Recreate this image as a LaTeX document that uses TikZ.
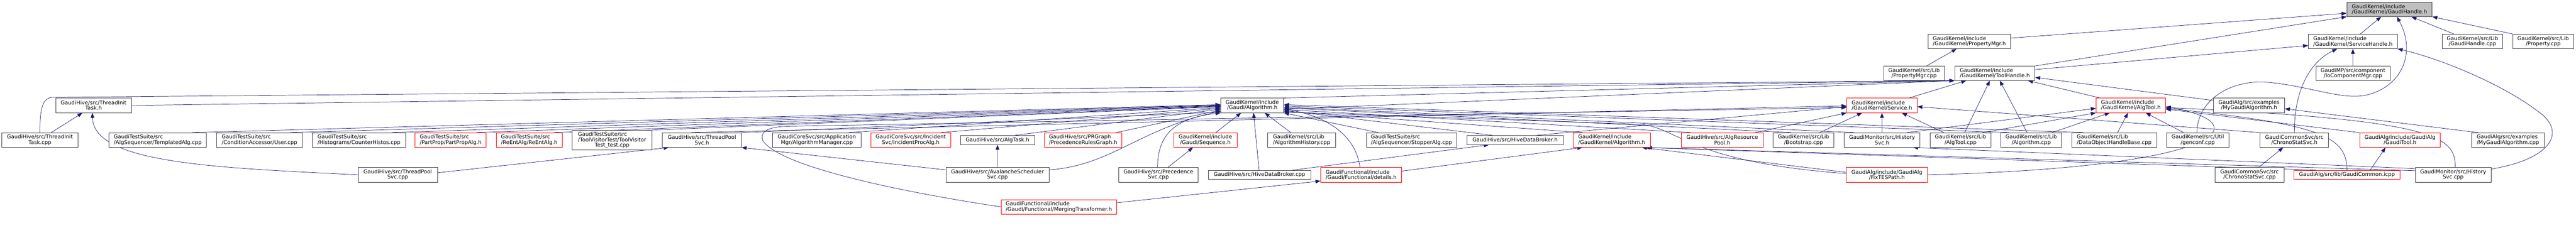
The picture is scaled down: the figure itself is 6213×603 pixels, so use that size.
\documentclass[tikz,border=0pt]{standalone}
\usepackage{fontspec}
\setmainfont{DejaVu Sans}
\usetikzlibrary{arrows.meta}
\definecolor{edgec}{HTML}{191970}
\definecolor{boxc}{HTML}{404040}
\definecolor{rootc}{HTML}{BFBFBF}
\definecolor{redc}{HTML}{FF0000}
\pgfdeclarelayer{bg}
\pgfsetlayers{bg,main}
\begin{document}
\begin{tikzpicture}[x=1pt,y=-1pt,
  box/.style={draw=boxc, line width=1pt, fill=white, inner sep=0pt, font=\fontsize{12.8}{12.7}\selectfont},
  rbox/.style={box, draw=redc},
  edge/.style={draw=edgec, line width=0.9pt, -{Triangle[length=12pt,width=9pt]}}]
\useasboundingbox (0,0) rectangle (6213,603);
% row 0
\node[box, fill=rootc, minimum width=206pt, minimum height=35pt, align=left] (gh) at (5763,22.5) {GaudiKernel/include\\/GaudiKernel/GaudiHandle.h};
% row 1
\node[box, minimum width=199pt, minimum height=35pt, align=left] (pmh) at (4749.8,100) {GaudiKernel/include\\/GaudiKernel/PropertyMgr.h};
\node[box, minimum width=215pt, minimum height=35pt, align=left] (shh) at (5674.8,100) {GaudiKernel/include\\/GaudiKernel/ServiceHandle.h};
\node[box, minimum width=146pt, minimum height=35pt, align=center] (ghcpp) at (5963.2,100) {GaudiKernel/src/Lib\\/GaudiHandle.cpp};
\node[box, minimum width=147pt, minimum height=35pt, align=center] (propcpp) at (6133.8,100) {GaudiKernel/src/Lib\\/Property.cpp};
% row 2
\node[box, minimum width=147pt, minimum height=34.5pt, align=center] (pmcpp) at (4616.5,177) {GaudiKernel/src/Lib\\/PropertyMgr.cpp};
\node[box, minimum width=193.7pt, minimum height=34.5pt, align=left] (thh) at (4811.2,177) {GaudiKernel/include\\/GaudiKernel/ToolHandle.h};
\node[box, minimum width=178.6pt, minimum height=34.5pt, align=center] (iocpp) at (5675,177) {GaudiMP/src/component\\/IoComponentMgr.cpp};
% row 3
\node[box, minimum width=182.7pt, minimum height=35pt, align=center] (tith) at (225.7,254.7) {GaudiHive/src/ThreadInit\\Task.h};
\node[box, minimum width=152pt, minimum height=35pt, align=center] (galg) at (3020.3,254.7) {GaudiKernel/include\\/Gaudi/Algorithm.h};
\node[rbox, minimum width=170pt, minimum height=35pt, align=left] (svch) at (4539,254.7) {GaudiKernel/include\\/GaudiKernel/Service.h};
\node[rbox, minimum width=168pt, minimum height=35pt, align=left] (atoolh) at (5139.3,254.7) {GaudiKernel/include\\/GaudiKernel/AlgTool.h};
\node[box, minimum width=172pt, minimum height=35pt, align=center] (mgah) at (5424.3,254.7) {GaudiAlg/src/examples\\/MyGaudiAlgorithm.h};
% row 4
\node[box, minimum width=183.3pt, minimum height=35pt, align=center] (titcpp) at (96.3,338.3) {GaudiHive/src/ThreadInit\\Task.cpp};
\node[box, minimum width=235pt, minimum height=35pt, align=left] (templ) at (380.5,338.3) {GaudiTestSuite/src\\/AlgSequencer/TemplatedAlg.cpp};
\node[box, minimum width=207pt, minimum height=35pt, align=left] (user) at (625.8,338.3) {GaudiTestSuite/src\\/ConditionAccessor/User.cpp};
\node[box, minimum width=224.3pt, minimum height=35pt, align=left] (counter) at (865.8,338.3) {GaudiTestSuite/src\\/Histograms/CounterHistos.cpp};
\node[rbox, minimum width=171.4pt, minimum height=35pt, align=left] (partprop) at (1087,338.3) {GaudiTestSuite/src\\/PartProp/PartPropAlg.h};
\node[rbox, minimum width=159pt, minimum height=35pt, align=left] (reent) at (1276.5,338.3) {GaudiTestSuite/src\\/ReEntAlg/ReEntAlg.h};
\node[box, minimum width=192pt, minimum height=47.7pt, align=center] (toolvis) at (1476.3,338.5) {\rlap{GaudiTestSuite/src}\phantom{/ToolVisitorTest/ToolVisitor}\\/ToolVisitorTest/ToolVisitor\\Test\_test.cpp};
\node[box, minimum width=191pt, minimum height=35pt, align=center] (tpsh) at (1692.8,338.3) {GaudiHive/src/ThreadPool\\Svc.h};
\node[box, minimum width=213.4pt, minimum height=35pt, align=center] (algmgr) at (1970,338.3) {GaudiCoreSvc/src/Application\\Mgr/AlgorithmManager.cpp};
\node[rbox, minimum width=192.4pt, minimum height=35pt, align=center] (incproc) at (2196.5,338.3) {GaudiCoreSvc/src/Incident\\Svc/IncidentProcAlg.h};
\node[box, minimum width=179pt, minimum height=22pt, align=center] (algtask) at (2405.8,338.3) {GaudiHive/src/AlgTask.h};
\node[rbox, minimum width=187.3pt, minimum height=35pt, align=left] (prgraph) at (2612.3,338.3) {GaudiHive/src/PRGraph\\/PrecedenceRulesGraph.h};
\node[rbox, minimum width=152.3pt, minimum height=35pt, align=center] (seq) at (2907.2,338.3) {GaudiKernel/include\\/Gaudi/Sequence.h};
\node[box, minimum width=163pt, minimum height=35pt, align=left] (alghist) at (3139.2,338.3) {GaudiKernel/src/Lib\\/AlgorithmHistory.cpp};
\node[box, minimum width=217.3pt, minimum height=35pt, align=left] (stopper) at (3404.3,338.3) {GaudiTestSuite/src\\/AlgSequencer/StopperAlg.cpp};
\node[box, minimum width=232pt, minimum height=22pt, align=center] (hdbh) at (3654,338.3) {GaudiHive/src/HiveDataBroker.h};
\node[rbox, minimum width=185.7pt, minimum height=35pt, align=left] (gkalg) at (3887.2,338.3) {GaudiKernel/include\\/GaudiKernel/Algorithm.h};
\node[rbox, minimum width=197.7pt, minimum height=35pt, align=center] (arp) at (4153.8,338.3) {GaudiHive/src/AlgResource\\Pool.h};
\node[box, minimum width=147pt, minimum height=35pt, align=center] (boot) at (4349.8,338.3) {GaudiKernel/src/Lib\\/Bootstrap.cpp};
\node[box, minimum width=183pt, minimum height=35pt, align=center] (histh) at (4539.2,338.3) {GaudiMonitor/src/History\\Svc.h};
\node[box, minimum width=147pt, minimum height=35pt, align=center] (atoolcpp) at (4728.5,338.3) {GaudiKernel/src/Lib\\/AlgTool.cpp};
\node[box, minimum width=147.4pt, minimum height=35pt, align=center] (algcpp) at (4899,338.3) {GaudiKernel/src/Lib\\/Algorithm.cpp};
\node[box, minimum width=204.3pt, minimum height=35pt, align=left] (dohb) at (5099.2,338.3) {GaudiKernel/src/Lib\\/DataObjectHandleBase.cpp};
\node[box, minimum width=151pt, minimum height=35pt, align=center] (genconf) at (5300.5,338.3) {GaudiKernel/src/Util\\/genconf.cpp};
\node[box, minimum width=165.3pt, minimum height=35pt, align=center] (chronoh) at (5533.7,338.3) {GaudiCommonSvc/src\\/ChronoStatSvc.h};
\node[rbox, minimum width=195pt, minimum height=35pt, align=center] (gtool) at (5788.5,338.3) {GaudiAlg/include/GaudiAlg\\/GaudiTool.h};
\node[box, minimum width=174.7pt, minimum height=35pt, align=left] (mgacpp) at (6048.7,338.3) {GaudiAlg/src/examples\\/MyGaudiAlgorithm.cpp};
% row 5
\node[box, minimum width=191.3pt, minimum height=35pt, align=center] (tpscpp) at (959.3,422.3) {GaudiHive/src/ThreadPool\\Svc.cpp};
\node[box, minimum width=248.7pt, minimum height=35pt, align=center] (avalanche) at (2405.7,422.3) {GaudiHive/src/AvalancheScheduler\\Svc.cpp};
\node[box, minimum width=192.3pt, minimum height=35pt, align=center] (precsvc) at (2793.8,422.3) {GaudiHive/src/Precedence\\Svc.cpp};
\node[box, minimum width=247pt, minimum height=22pt, align=center] (hdbcpp) at (3037.8,422.5) {GaudiHive/src/HiveDataBroker.cpp};
\node[rbox, minimum width=195.4pt, minimum height=35pt, align=left] (details) at (3283,422.3) {GaudiFunctional/include\\/Gaudi/Functional/details.h};
\node[rbox, minimum width=195.4pt, minimum height=35pt, align=center] (fixtes) at (4551,422.3) {GaudiAlg/include/GaudiAlg\\/FixTESPath.h};
\node[box, minimum width=165.6pt, minimum height=35pt, align=center] (chronocpp) at (5425.5,422.3) {GaudiCommonSvc/src\\/ChronoStatSvc.cpp};
\node[rbox, minimum width=256.4pt, minimum height=22pt, align=center] (gcommon) at (5660.5,422.5) {GaudiAlg/src/lib/GaudiCommon.icpp};
\node[box, minimum width=182.7pt, minimum height=35pt, align=center] (histcpp) at (5916.7,422.3) {GaudiMonitor/src/History\\Svc.cpp};
% row 6
\node[rbox, minimum width=279pt, minimum height=35pt, align=left] (merging) at (2553.8,499.7) {GaudiFunctional/include\\/Gaudi/Functional/MergingTransformer.h};

\begin{pgfonlayer}{bg}
% into GaudiHandle.h
\draw[edge] ([yshift=8pt]pmh.east) -- ([yshift=-9.5pt]gh.west);
\draw[edge] (thh.north east) -- (gh.south west);
\draw[edge] ([xshift=18pt]shh.north) -- ([xshift=-20pt]gh.south);
\draw[edge] ([xshift=-45pt]ghcpp.north) -- ([xshift=53pt]gh.south);
\draw[edge] (propcpp.north west) -- (gh.south east);
\draw[edge] ([xshift=-2pt]genconf.north) .. controls (5300,240) and (5380,195) .. (5460,198) .. controls (5560,205) and (5640,240) .. (5700,231) .. controls (5790,215) and (5830,130) .. ([xshift=18pt]gh.south);
% into ServiceHandle.h
\draw[edge] ([yshift=9pt]thh.east) -- ([yshift=-10pt]shh.west);
\draw[edge] (chronoh.north) .. controls (5533,220) and (5570,150) .. ([xshift=-38pt]shh.south);
\draw[edge] (iocpp.north) -- (shh.south);
\draw[edge] ([yshift=14pt]histcpp.east) .. controls (6150,385) and (6195,320) .. (6120,268) .. controls (6030,200) and (5880,140) .. (shh.south east);
% into PropertyMgr.h
\draw[edge] ([xshift=30pt]pmcpp.north) -- ([xshift=-31pt]pmh.south);
% into ToolHandle.h
\draw[edge] (tith.east) -- (thh.south west);
\draw[edge] (titcpp.north) .. controls (96,255) and (105,238) .. (125,235) -- (thh.south west);
\draw[edge] (galg.north east) -- (thh.south west);
\draw[edge] (tpsh.north east) -- (thh.south west);
\draw[edge] ([xshift=65pt]svch.north) -- ([xshift=-69pt]thh.south);
\draw[edge] ([xshift=10pt]atoolcpp.north) -- ([xshift=-12pt]thh.south);
\draw[edge] ([xshift=-10pt]algcpp.north) -- ([xshift=12pt]thh.south);
\draw[edge] ([xshift=-74pt]atoolh.north) -- ([xshift=80pt]thh.south);
\draw[edge] ([yshift=12pt]mgah.west) -- ([yshift=-10pt]thh.east);
% into Service.h
\draw[edge] ([xshift=52pt]hdbh.north) -- ([yshift=-3pt]svch.west);
\draw[edge] ([xshift=-25pt]tpsh.north) -- ([yshift=-1pt]svch.west);
\draw[edge] (merging.west) .. controls (2150,460) and (1880,400) .. (1840,340) .. controls (1830,315) and (1860,306) .. (1900,305) -- ([yshift=-5pt]svch.west);
\draw[edge] ([xshift=80pt]arp.north) -- (svch.south west);
\draw[edge] ([xshift=39pt]boot.north) -- ([xshift=-48pt]svch.south);
\draw[edge] (histh.north) -- (svch.south);
\draw[edge] ([xshift=-40pt]atoolcpp.north) -- ([xshift=48pt]svch.south);
\draw[edge] (chronoh.north west) -- ([yshift=-3pt]svch.east);
% into Gaudi/Algorithm.h from the left
\draw[edge] ([xshift=83pt]templ.north) -- ([yshift=2pt]galg.west);
\draw[edge] ([xshift=74pt]user.north) -- ([yshift=1pt]galg.west);
\draw[edge] ([xshift=79pt]counter.north) -- (galg.west);
\draw[edge] ([xshift=62pt]partprop.north) -- ([yshift=-1pt]galg.west);
\draw[edge] ([xshift=60pt]reent.north) -- ([yshift=-2pt]galg.west);
\draw[edge] (toolvis.north east) -- ([yshift=-3pt]galg.west);
\draw[edge] ([xshift=77pt]algmgr.north) -- ([yshift=-5pt]galg.west);
\draw[edge] ([xshift=73pt]incproc.north) -- ([yshift=-7pt]galg.west);
\draw[edge] ([xshift=42pt]algtask.north) -- ([yshift=-9pt]galg.west);
\draw[edge] ([xshift=80pt]prgraph.north) -- ([yshift=-11pt]galg.west);
\draw[edge] ([yshift=12pt]avalanche.east) .. controls (2680,400) and (2750,310) .. ([yshift=-14pt]galg.west);
\draw[edge] ([xshift=-2pt]precsvc.north) .. controls (2792,320) and (2840,285) .. (galg.south west);
% into Gaudi/Algorithm.h from below
\draw[edge] ([xshift=23pt]precsvc.north) -- ([xshift=-30pt]seq.south);
\draw[edge] ([xshift=25pt]seq.north) -- ([xshift=-27pt]galg.south);
\draw[edge] ([xshift=-1pt]hdbcpp.north) -- ([xshift=3pt]galg.south);
\draw[edge] ([xshift=80pt]hdbcpp.north) -- ([xshift=-63pt]hdbh.south);
\draw[edge] ([xshift=-26pt]alghist.north) -- ([xshift=30pt]galg.south);
\draw[edge] ([xshift=-80pt]stopper.north) -- (galg.south east);
\draw[edge] ([xshift=-3pt]details.north) .. controls (3272,340) and (3220,285) .. ([yshift=-8pt]galg.east);
% into Gaudi/Algorithm.h from the right
\draw[edge] ([xshift=-54pt]hdbh.north) -- ([yshift=-12pt]galg.east);
\draw[edge] ([xshift=-70pt]gkalg.north) -- ([yshift=-14pt]galg.east);
\draw[edge] ([xshift=-76pt]arp.north) -- ([yshift=-10pt]galg.east);
\draw[edge] ([xshift=-30pt]boot.north) -- ([yshift=-6pt]galg.east);
\draw[edge] ([xshift=-67pt]histh.north) -- ([yshift=-4pt]galg.east);
\draw[edge] ([xshift=-54pt]algcpp.north) -- ([yshift=-1pt]galg.east);
\draw[edge] ([xshift=-74pt]dohb.north) -- ([yshift=2pt]galg.east);
\draw[edge] ([yshift=3pt]fixtes.west) .. controls (4060,390) and (4050,305) .. (3950,300) -- ([yshift=-16pt]galg.east);
% into GaudiKernel/Algorithm.h
\draw[edge] ([yshift=9pt]details.east) -- ([xshift=-71pt]gkalg.south);
\draw[edge] ([yshift=6pt]fixtes.west) -- ([xshift=73pt]gkalg.south);
\draw[edge] ([yshift=10pt]histcpp.west) -- ([xshift=85pt]gkalg.south);
\draw[edge] ([xshift=-75pt]gcommon.north) -- ([xshift=80pt]gkalg.south);
% ThreadInit / ThreadPool
\draw[edge] ([xshift=27pt]titcpp.north) -- ([xshift=-27pt]tith.south);
\draw[edge] (tpscpp.west) .. controls (520,405) and (226,395) .. ([xshift=-3pt]tith.south);
\draw[edge] ([yshift=5pt]tpscpp.east) -- ([xshift=-80pt]tpsh.south);
\draw[edge] ([yshift=12pt]avalanche.west) -- (tpsh.south east);
\draw[edge] (avalanche.north) -- (algtask.south);
% details
\draw[edge] ([yshift=10pt]merging.east) -- ([yshift=-15pt]details.west);
% into AlgTool.h
\draw[edge] ([xshift=53pt]atoolcpp.north) -- (atoolh.south west);
\draw[edge] ([xshift=60pt]histh.north) -- ([yshift=-7pt]atoolh.west);
\draw[edge] ([xshift=50pt]algcpp.north) -- ([xshift=-51pt]atoolh.south);
\draw[edge] ([xshift=8pt]dohb.north) -- ([xshift=-7pt]atoolh.south);
\draw[edge] ([xshift=-34pt]genconf.north) -- ([xshift=36pt]atoolh.south);
\draw[edge] (gtool.north west) -- ([yshift=-9pt]atoolh.east);
\draw[edge] (gcommon.north) .. controls (5660,330) and (5600,300) .. ([yshift=-7pt]atoolh.east);
\draw[edge] ([xshift=5pt]histcpp.north) .. controls (5922,330) and (5880,290) .. ([yshift=-5pt]atoolh.east);
\draw[edge] (fixtes.east) .. controls (5350,405) and (5460,300) .. ([yshift=-3pt]atoolh.east);
% others
\draw[edge] ([xshift=-72pt]mgacpp.north) -- ([yshift=-8pt]mgah.east);
\draw[edge] ([xshift=22pt]chronocpp.north) -- ([xshift=-27pt]chronoh.south);
\draw[edge] ([xshift=56pt]gcommon.north) -- ([xshift=-35pt]gtool.south);
\draw[edge] ([yshift=15pt]histcpp.west) -- ([xshift=75pt]histh.south);
\end{pgfonlayer}
\end{tikzpicture}
\end{document}
